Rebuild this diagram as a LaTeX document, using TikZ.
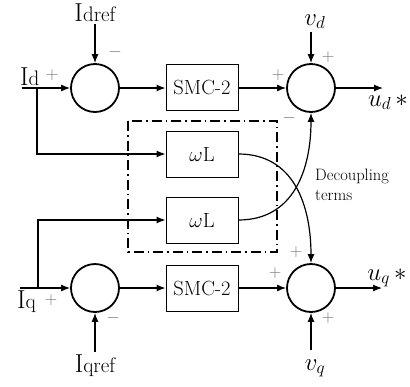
\documentclass[tikz,border=0pt]{standalone}
\usetikzlibrary{arrows.meta}
\begin{document}
\begin{tikzpicture}[x=1pt,y=-1pt,
  sumc/.style={circle,draw,line width=1.8pt,minimum size=48pt,inner sep=0pt},
  blk/.style={draw,line width=1pt,minimum width=72pt,minimum height=46pt,inner sep=0pt,font=\fontsize{20.5}{24}\selectfont},
  sig/.style={line width=1.2pt,-{Latex[length=9pt,width=7pt]}},
  sgn/.style={text=black!55,font=\fontsize{16}{18}\selectfont,inner sep=0pt},
  lbl/.style={inner sep=0pt,font=\fontsize{23}{26}\selectfont},
  bigI/.style={inner sep=0pt,font=\fontsize{26}{28}\selectfont}]
\useasboundingbox (0,0) rectangle (410,386);
% summing junctions
\node[sumc] (s1) at (95,88) {};
\node[sumc] (s2) at (311,88) {};
\node[sumc] (s3) at (95,288) {};
\node[sumc] (s4) at (311,288) {};
% blocks
\node[blk] (smc1) at (202,87) {SMC-2};
\node[blk] (smc2) at (202,288) {SMC-2};
\node[blk] (wl1) at (202,154) {$\omega$L};
\node[blk] (wl2) at (202,220) {$\omega$L};
% dash-dot box
\draw[line width=1.7pt,dash pattern=on 10pt off 4pt on 1.5pt off 4pt] (128,121) rectangle (277,252);
% labels
\node[bigI,anchor=base] (idref) at (95,21) {I{\fontsize{21}{22}\selectfont dref}};
\node[bigI,anchor=base] (iqref) at (95,372) {I{\fontsize{21}{22}\selectfont qref}};
\node[bigI,anchor=base west] (id) at (20,85) {I{\fontsize{21}{22}\selectfont d}};
\node[bigI,anchor=base west] (iq) at (17,308) {I{\fontsize{21}{22}\selectfont q}};
\node[lbl,anchor=base] (vd) at (315,25) {$v_d$};
\node[lbl,anchor=base] (vq) at (315,370) {$v_q$};
\node[lbl,anchor=base] (ud) at (388,106) {$u_d\,{*}$};
\node[lbl,anchor=base] (uq) at (387,280) {$u_q\,{*}$};
\node[align=left,inner sep=0pt,font=\fontsize{16.5}{20}\selectfont,anchor=west] (dec) at (315,185) {Decoupling\\terms};
% coordinates for wire ends
\coordinate (idin) at (22,88);
\coordinate (iqin) at (20,288);
\coordinate (b1) at (37,88);
\coordinate (b2) at (38,288);
\coordinate (o1) at (383,88);
\coordinate (o2) at (382,288);
% connections
\draw[sig] (idin) -- (s1.west);
\draw[sig] (iqin) -- (s3.west);
\draw[sig] (95,24) -- (s1.north);
\draw[sig] (95,352) -- (s3.south);
\draw[sig] (311,32) -- (s2.north);
\draw[sig] (311,350) -- (s4.south);
\draw[sig] (s1.east) -- (smc1.west |- s1.east);
\draw[sig] (s3.east) -- (smc2.west);
\draw[sig] (smc1.east |- s2.west) -- (s2.west);
\draw[sig] (smc2.east) -- (s4.west);
\draw[sig] (s2.east) -- (o1);
\draw[sig] (s4.east) -- (o2);
\draw[sig] (b1) |- (wl1.west);
\draw[sig] (b2) |- (wl2.west);
\draw[sig] (wl1.east) to[out=0,in=90,looseness=1.1] (s4.north);
\draw[sig] (wl2.east) to[out=0,in=-90,looseness=1.1] (s2.south);
% signs
\node[sgn] at (52,75) {$+$};
\node[sgn] at (115,52) {$-$};
\node[sgn] at (278,75) {$+$};
\node[sgn] at (328,57) {$+$};
\node[sgn] at (289,118) {$-$};
\node[sgn] at (51,300) {$+$};
\node[sgn] at (113,318) {$-$};
\node[sgn] at (275,273) {$+$};
\node[sgn] at (296,252) {$+$};
\node[sgn] at (328,318) {$+$};
\end{tikzpicture}
\end{document}
